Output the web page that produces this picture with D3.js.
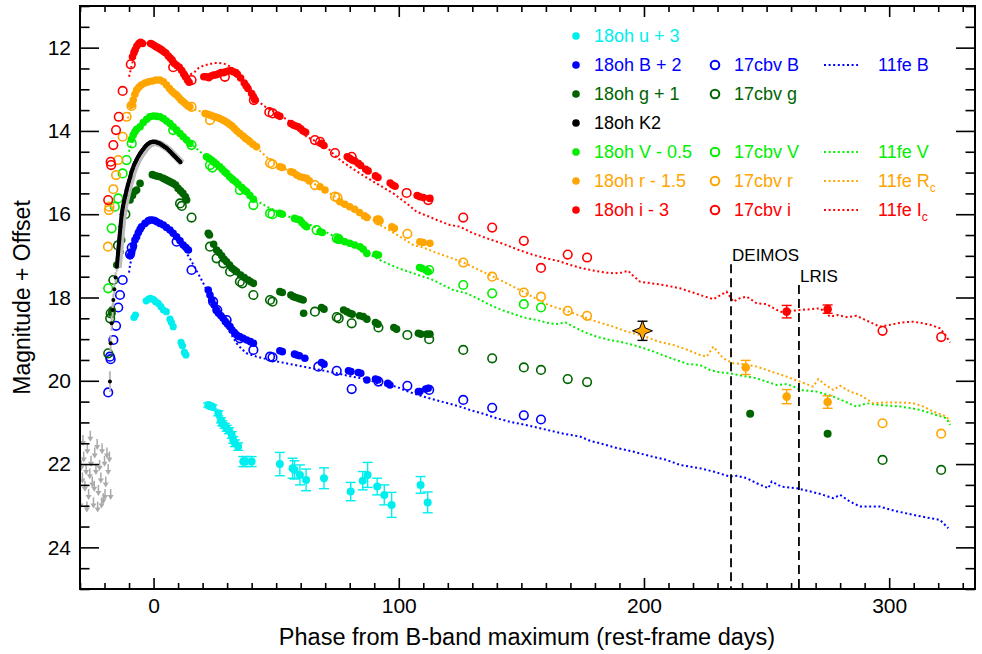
<!DOCTYPE html>
<html><head><meta charset="utf-8">
<script src="https://cdn.jsdelivr.net/npm/d3@7"></script>
<style>body{margin:0;background:#fff;} text{font-family:"Liberation Sans",Arial,Helvetica,sans-serif;}</style>
</head><body><svg id="c" width="982" height="654"></svg>
<script>
// ---------------- DATA ([phase, mag] or [phase, mag, err]) ----------------
const xDomain = [-30, 335];
const yDomain = [11, 25];
const xMajorTicks = [0, 100, 200, 300];
const yMajorTicks = [12, 14, 16, 18, 20, 22, 24];

const oh_u = [[-8.0,18.48],[-7.4,18.42],[-3.0,18.08],[-2.0,18.04],[-1.2,18.02],[0,18.05],[0.8,18.1],[1.9,18.14],[3,18.22],[4,18.3],[5.2,18.34],[6.7,18.52],[7.3,18.6],[8,18.7],[11.2,19.08],[11.8,19.16],[12.6,19.32],[13.2,19.38]];
const oh_u_err = [[22.3,20.58,0.05],[23,20.6,0.05],[24,20.63,0.05],[26.4,20.78,0.06],[27.5,20.95,0.06],[28,21.02,0.06],[29,21.08,0.06],[29.8,21.14,0.07],[30.8,21.2,0.07],[31.9,21.3,0.08],[32.5,21.42,0.08],[33.2,21.5,0.08],[34.5,21.58,0.09],[36.6,21.94,0.12],[37.5,21.94,0.12],[40,21.94,0.12],[51.5,22.0,0.28],[56.7,22.1,0.24],[57.5,22.14,0.22],[59.7,22.26,0.24],[62.2,22.38,0.26],[69.5,22.34,0.25],[80.4,22.66,0.22],[85.3,22.4,0.22],[87.3,22.26,0.3],[91.2,22.54,0.2],[94.1,22.74,0.24],[97.1,22.98,0.3],[108.9,22.5,0.2],[111.8,22.92,0.25]];

const oh_B = [[-9.6,17.0],[-8.9,16.9],[-8.2,16.75],[-7.6,16.62],[-6.9,16.54],[-6.2,16.44],[-5.5,16.36],[-4.9,16.3],[-3.5,16.22],[-2.2,16.16],[-1.5,16.14],[-0.5,16.14],[0.5,16.15],[1.3,16.18],[2.6,16.22],[4,16.26],[5.3,16.32],[6.7,16.38],[8,16.46],[9.4,16.54],[10.8,16.64],[12.1,16.74],[13.2,16.8],[14.2,16.86],
[22.3,17.82],[23,17.94],[23.7,18.06],[24.7,18.18],[25.7,18.3],[26.5,18.38],[27.5,18.44],[28.4,18.5],[29.3,18.58],[30.2,18.64],[31.2,18.7],[32,18.78],[33,18.84],[33.9,18.9],[35,18.94],[36.5,18.98],[38,19.02],[39.5,19.06],[40.7,19.1],[51.5,19.28],[52.5,19.3],[57.5,19.36],[58.4,19.38],[59.5,19.4],[61.7,19.46],[68.5,19.56],[69.5,19.6],[79.5,19.76],[80.5,19.78],[83.5,19.8],[84.5,19.82],[87,19.98],[90.5,19.96],[91.5,19.98],[95.5,20.06],[96.4,20.1],[108,20.26],[108.6,20.26],[111,20.2],[112,20.18]];

const oh_g = [[-17.1,18.38],[-16.9,18.3],[-15,17.22],[-13.7,16.9],[-13,16.62],[-9.6,15.66],[-8.6,15.55],[-7.6,15.45],[-6.9,15.42],[-5.5,15.26],[-0.5,15.05],[0.5,15.07],[1.5,15.09],[2.5,15.1],[4,15.14],[5,15.17],[6,15.2],[7,15.23],[8,15.26],[9,15.3],[10,15.38],[11,15.44],[12,15.5],[13,15.58],[13.5,15.66],
[22.3,16.46],[22.8,16.5],[24.5,16.72],[25.7,16.86],[26.7,16.92],[27.8,17.0],[28.8,17.08],[29.8,17.14],[31,17.22],[32,17.3],[33,17.34],[33.9,17.38],[35.5,17.46],[37,17.52],[38.6,17.58],[39.6,17.62],[40.7,17.66],[51.5,17.86],[52.5,17.88],[56,17.94],[57,17.98],[58,18.0],[59,18.02],[60,18.04],[61,18.06],[61.2,18.38],[68.5,18.24],[69.5,18.28],[77.5,18.3],[78.8,18.34],[80,18.38],[81,18.4],[84,18.44],[85.5,18.46],[87,18.52],[90.5,18.6],[91.5,18.64],[98,18.72],[99.1,18.76],[108,18.86],[109,18.88],[111.5,18.88],[112.7,18.88]];
const oh_g_late = [[243.3,20.79,0.04],[274.9,21.27,0.04]];

const oh_K2 = [[-17.8,20.02,0.25],[-17.5,19.1,0.2],[-17.1,18.62,0.18],[-16.7,18.3,0.16],[-16.4,18.06,0.15],[-16.0,17.8,0.14],[-15.5,17.52,0.13],[-15.0,17.26,0.12],[-14.5,16.95,0.11],[-14.0,16.62,0.1],[-13.5,16.3,0.1],[-13.0,16.0,0.09],[-12.5,15.82,0.09],[-12.0,15.68,0.08],[-11.5,15.55,0.08],[-11.0,15.42,0.08],[-10.5,15.3,0.07],[-10.0,15.2,0.07],[-9.5,15.1,0.07],[-9.0,14.98,0.06],[-8.5,14.9,0.06],[-8.0,14.82,0.06],[-7.5,14.76,0.06],[-7.0,14.7,0.06],[-6.5,14.64,0.05],[-6.0,14.59,0.05],[-5.5,14.54,0.05],[-5.0,14.5,0.05],[-4.5,14.46,0.05],[-4.0,14.42,0.05],[-3.5,14.38,0.05],[-3.0,14.35,0.05],[-2.5,14.32,0.05],[-2.0,14.3,0.05],[-1.5,14.28,0.05],[-1.0,14.27,0.05],[-0.5,14.26,0.05],[0,14.26,0.05],[0.5,14.26,0.05],[1.0,14.27,0.05],[1.5,14.28,0.05],[2.0,14.29,0.05],[2.5,14.3,0.05],[3.0,14.32,0.05],[3.5,14.34,0.05],[4.0,14.36,0.05],[4.5,14.38,0.05],[5.0,14.4,0.05],[5.5,14.42,0.05],[6.0,14.45,0.05],[6.5,14.48,0.05],[7.0,14.51,0.05],[7.5,14.54,0.05],[8.0,14.57,0.05],[8.5,14.6,0.05],[9.0,14.63,0.05],[9.5,14.66,0.05],[10.0,14.69,0.05],[10.5,14.72,0.05],[11.0,14.75,0.05]];

const oh_V = [[-9.0,14.2],[-8.3,14.1],[-7.6,14.02],[-6.9,13.96],[-5.5,13.9],[-4.2,13.8],[-2.8,13.72],[-1.5,13.66],[0,13.64],[1.3,13.65],[2.6,13.66],[4,13.7],[5.3,13.76],[6.7,13.82],[8,13.9],[9.4,13.98],[10.8,14.06],[12.1,14.14],[13.5,14.22],[14.8,14.3],
[21.6,14.62],[22.6,14.66],[23.6,14.7],[24.6,14.75],[25.7,14.8],[27,14.86],[28,14.92],[29,14.98],[29.8,15.02],[31,15.1],[32,15.15],[32.5,15.18],[33.5,15.22],[34.5,15.28],[36,15.36],[37,15.42],[38,15.46],[39.3,15.55],[40.7,15.64],[51.5,15.98],[52.5,16.0],[57.5,16.1],[58.5,16.12],[59.7,16.14],[60.5,16.2],[61.5,16.26],[62.4,16.3],[67.9,16.42],[68.8,16.44],[75,16.6],[76,16.62],[78,16.66],[80,16.7],[82,16.74],[84.2,16.78],[85.5,16.84],[87,16.94],[90.7,16.96],[91.7,16.98],[108.5,17.28],[109.4,17.3],[111,17.34],[112,17.38]];

const oh_r = [[-9.0,13.38],[-8.3,13.26],[-7.6,13.12],[-6.9,13.02],[-6.0,12.95],[-5.0,12.9],[-3.5,12.85],[-2.0,12.82],[-0.5,12.8],[1.0,12.78],[2.6,12.78],[4.0,12.82],[5.3,12.9],[6.5,12.98],[7.5,13.05],[8.5,13.1],[9.4,13.14],[10.3,13.2],[11.2,13.26],[12.1,13.3],[13.0,13.35],[14.0,13.4],[14.8,13.42],
[21,13.58],[22,13.6],[23,13.62],[24,13.64],[25,13.66],[26,13.68],[27,13.7],[28,13.73],[29,13.76],[30,13.8],[31,13.84],[32,13.88],[33,13.94],[34,14.0],[35.2,14.06],[36.5,14.12],[37.5,14.18],[38.5,14.22],[39.3,14.26],[40.5,14.32],[42,14.38],[51.5,14.86],[52.5,14.88],[56,14.98],[57,15.0],[58.4,15.06],[59.7,15.1],[61,15.12],[62.4,15.14],[63.5,15.2],[67.9,15.34],[69.9,15.42],[76,15.7],[78,15.76],[80,15.82],[82,15.88],[84,15.96],[86,16.04],[87,16.08],[91,16.12],[92.3,16.16],[97.2,16.3],[98.2,16.34],[108.6,16.66],[110,16.68],[112.7,16.7]];
const oh_r_late = [[241.5,19.68,0.17],[258.2,20.38,0.17],[274.9,20.51,0.15]];
const oh_r_star = [[199.4,18.8,0.23]];

const oh_i = [[-8.6,12.22],[-8.0,12.12],[-7.5,12.05],[-6.8,11.96],[-6.0,11.9],[-5.3,11.87],[-4.5,11.9],[-1.2,11.9],[-0.5,11.92],[0.3,11.95],[1.0,11.98],[1.8,12.0],[2.6,12.03],[3.4,12.06],[4.2,12.1],[5.0,12.13],[6.0,12.2],[6.8,12.25],[7.6,12.3],[8.5,12.38],[9.5,12.43],[10.5,12.47],[11.5,12.55],[12.3,12.63],[13.0,12.7],[13.8,12.78],[14.5,12.83],
[20.5,12.7],[21.5,12.7],[22.5,12.72],[23.5,12.68],[24.5,12.66],[25.5,12.65],[26.5,12.63],[27.5,12.6],[28.5,12.6],[29.5,12.58],[30.5,12.56],[31.5,12.55],[32.5,12.58],[33.5,12.6],[34.2,12.64],[35.5,12.73],[37.0,12.85],[37.8,12.92],[38.5,12.98],[40.0,13.1],[40.7,13.18],[41.3,13.25],
[50.5,13.62],[51.5,13.65],[56,13.82],[57,13.86],[58,13.88],[59,13.9],[60,13.95],[61,14.0],[62,14.03],[68.5,14.3],[69.5,14.35],[79,14.62],[80,14.66],[81,14.7],[82,14.72],[83.5,14.78],[84.5,14.83],[86.5,14.92],[87.5,14.96],[90.5,15.08],[91.5,15.12],[96.5,15.25],[97.5,15.3],[98.5,15.33],[107.5,15.55],[108.6,15.58],[110,15.6],[112.7,15.62]];
const oh_i_late = [[258.2,18.34,0.15],[274.9,18.28,0.1]];

const cbv_B = [[-18.5,20.28],[-17.8,19.42],[-17.5,19.48],[-16.4,19.02],[-15.3,18.68],[-14.4,18.24],[-13.7,17.94],[-12.6,17.58],[-9.6,16.96],[-8.9,16.8],[9.4,16.66],[15.5,17.34],[24.3,18.1],[26,18.3],[29.8,18.54],[35.2,18.98],[40.7,19.26],[47.5,19.42],[48.5,19.44],[67.2,19.66],[74.7,19.76],[80.8,20.2],[91.7,20.02],[103.5,20.12],[112.4,20.22],[126.3,20.46],[138.1,20.65],[151,20.83],[158,20.93]];
const cbv_g = [[-18.5,19.34],[-17.7,18.5],[-17.5,18.38],[-16.4,17.58],[-14.5,16.75],[-11.5,16.0],[10.8,15.74],[11.5,15.8],[15.5,16.08],[23,16.78],[25.7,17.06],[28.4,17.18],[31.2,17.38],[35.2,17.62],[36.2,17.66],[40.7,17.94],[47.5,18.06],[48.5,18.1],[65.8,18.34],[74.7,18.47],[75.5,18.5],[80.8,18.62],[91.7,18.72],[103.5,18.9],[112.4,19.0],[126.3,19.26],[138.1,19.46],[151,19.68],[158,19.74],[168.9,19.96],[176.8,20.03],[297.3,21.9],[321.2,22.14]];
const cbv_V = [[-18.5,17.78],[-17.1,16.34],[-15.8,15.82],[-14.4,15.62],[-12.6,15.02],[-11,14.7],[-8.9,14.3],[8,13.98],[15.5,14.34],[23,14.82],[24,14.88],[35.2,15.42],[40.7,15.78],[47.5,15.98],[48.5,16.0],[66.5,16.38],[74.7,16.58],[75.5,16.6],[112.4,17.34],[126.3,17.7],[138.1,17.9],[151,18.16],[158,18.24]];
const cbv_r = [[-18.6,16.78],[-18.2,15.9],[-18.0,15.82],[-16.4,15.4],[-15.3,15.06],[-14.4,14.7],[-12.6,14.14],[-11.0,13.66],[-9.0,13.4],[15.5,13.42],[23,13.74],[47.5,14.77],[48.5,14.8],[65.8,15.3],[74,15.58],[75,15.6],[91.7,16.15],[103.5,16.47],[126.3,17.16],[138.1,17.5],[151,17.88],[158,17.98],[168.9,18.32],[176.8,18.44],[297.3,21.02],[321.2,21.27]];
const cbv_i = [[-18.5,15.66],[-17.5,14.74],[-17.3,14.82],[-16.4,14.34],[-15.3,13.98],[-14.2,13.66],[-12.6,13.04],[-9.3,12.4],[8,12.47],[15.5,12.78],[29.1,12.7],[40.9,13.26],[47.2,13.55],[48.6,13.58],[65.8,14.22],[67.9,14.26],[74,14.53],[80.8,14.62],[103.2,15.49],[112,15.66],[126.3,16.08],[138.1,16.32],[151,16.64],[158,17.29],[168.9,16.97],[176.8,17.04],[297.3,18.8],[321.2,18.95]];

const fe_B = [[-10,17.4],[-9.6,17.22],[-8,16.8],[-6,16.46],[-4,16.28],[-2,16.18],[0,16.14],[2,16.18],[4,16.26],[6,16.38],[8,16.52],[10,16.66],[12,16.8],[14.8,17.06],[17,17.3],[18.9,17.5],[21,17.74],[23,17.98],[25,18.18],[27,18.38],[28.4,18.54],[30,18.72],[32,18.92],[33.9,19.1],[36,19.24],[38,19.34],[42,19.42],[47.5,19.5],[54,19.58],[61,19.66],[68,19.74],[74.7,19.82],[81,19.9],[88.3,19.98],[92.3,20.1],[96,20.12],[99.1,20.14],[102,20.22],[105.9,20.3],[110,20.38],[115,20.46],[120,20.54],[125,20.62],[130,20.72],[135,20.8],[139.9,20.9],[145,20.98],[150,21.04],[157.6,21.14],[162,21.2],[168,21.28],[173.9,21.34],[178,21.44],[182,21.5],[188,21.6],[195.6,21.7],[202,21.8],[209.2,21.9],[214.7,22.02],[222.8,22.1],[228.3,22.18],[235.1,22.3],[238,22.28],[241.9,22.34],[246,22.46],[250.7,22.58],[252.1,22.42],[256,22.54],[262.3,22.58],[268,22.66],[272,22.72],[277.2,22.82],[280,22.74],[284,22.9],[288.1,23.02],[296.2,23.02],[302,23.12],[309.8,23.22],[315,23.28],[320.7,23.34],[324.1,23.54]];
const fe_V = [[-10,14.5],[-9,14.3],[-7.5,14.06],[-6,13.9],[-4.5,13.78],[-3,13.7],[-1,13.65],[1,13.64],[3,13.67],[5,13.74],[7,13.84],[9,13.95],[11,14.06],[13,14.18],[15,14.3],[17,14.4],[19,14.5],[21,14.6],[23,14.7],[25,14.8],[27,14.9],[29,15.0],[31,15.1],[33,15.22],[35,15.34],[37,15.44],[39,15.54],[41,15.64],[44,15.74],[47,15.84],[50,15.92],[53,16.0],[56,16.08],[60,16.16],[64,16.26],[68,16.36],[72,16.48],[76,16.6],[80,16.72],[84,16.84],[88,16.96],[92.3,17.1],[96,17.2],[100,17.3],[105.9,17.42],[110,17.5],[114.1,17.58],[118,17.7],[122.2,17.82],[127.7,17.9],[132,18.02],[137.2,18.18],[142,18.3],[147,18.4],[151,18.48],[156.2,18.54],[160,18.6],[164,18.64],[168,18.6],[171.2,18.7],[176,18.84],[180.7,18.94],[186,19.02],[190,19.06],[195.6,19.14],[200,19.22],[204,19.3],[209.2,19.42],[214,19.52],[218,19.6],[222.8,19.62],[226.9,19.74],[231,19.8],[235.1,19.82],[240,19.88],[246,19.94],[250,20.02],[254.1,20.1],[258.2,20.08],[261,20.14],[263.6,20.22],[267,20.24],[270.4,20.26],[274,20.32],[277.2,20.38],[282,20.5],[286.7,20.62],[290.8,20.54],[296,20.58],[304.5,20.62],[309,20.66],[312.7,20.7],[318,20.8],[323.4,20.9],[324.8,21.06]];
const fe_R = [[-10.5,13.7],[-9.5,13.48],[-8,13.22],[-6.5,13.02],[-5,12.9],[-3,12.82],[-1,12.78],[1,12.78],[3,12.8],[5,12.88],[7,12.98],[9,13.1],[11,13.22],[13,13.33],[15,13.42],[17,13.48],[19,13.53],[21,13.58],[23,13.62],[25,13.66],[27,13.7],[29,13.76],[31,13.84],[33,13.94],[35,14.05],[37,14.16],[39,14.26],[41,14.36],[43,14.46],[46,14.62],[49,14.76],[52,14.86],[55,14.95],[58,15.04],[61,15.12],[64,15.22],[67,15.32],[70,15.42],[73,15.54],[76,15.66],[79,15.78],[82,15.88],[85,15.98],[88,16.06],[92.3,16.26],[96,16.38],[100,16.52],[105.9,16.74],[110,16.8],[115,16.92],[120,17.02],[126.3,17.16],[132,17.32],[138.5,17.5],[144,17.66],[150.8,17.86],[155,18.0],[160.3,18.16],[164,18.24],[168.5,18.32],[174,18.44],[180.7,18.58],[187.5,18.7],[193,18.82],[199.7,18.92],[206,19.06],[212,19.14],[217,19.24],[222.8,19.38],[225.6,19.42],[228.3,19.18],[230,19.3],[232.3,19.46],[236.4,19.58],[241,19.6],[246,19.66],[252,19.78],[258.2,19.9],[263.6,20.02],[269,20.14],[271.1,19.96],[274,20.1],[277.2,20.22],[280,20.12],[284,20.26],[288.1,20.34],[293.5,20.54],[298,20.52],[304.5,20.52],[309.8,20.54],[314,20.62],[318,20.74],[323.4,20.86],[324.8,20.98]];
const fe_I = [[-10,12.7],[-9,12.45],[-8,12.22],[-7,12.05],[-6,11.95],[-5,11.9],[-3,11.88],[-1,11.92],[1,11.98],[3,12.05],[5,12.14],[7,12.25],[9,12.38],[11,12.5],[13,12.62],[15,12.64],[16.5,12.6],[18.5,12.48],[20.5,12.43],[22.5,12.4],[24.5,12.37],[26.5,12.37],[28.5,12.38],[30.5,12.43],[32.5,12.5],[34.5,12.6],[36.5,12.74],[38.5,12.9],[40.5,13.08],[42.5,13.27],[45,13.4],[48,13.5],[51.5,13.62],[55,13.75],[58.5,13.9],[62.4,14.14],[66.5,14.26],[70.6,14.38],[73.3,14.55],[76.5,14.72],[80,14.86],[84.2,15.02],[88,15.16],[92,15.3],[97.8,15.5],[103.2,15.74],[107.3,15.94],[112,16.05],[116,16.15],[120.9,16.26],[125,16.3],[130,16.45],[137,16.6],[143,16.72],[149,16.86],[155,16.98],[160,17.06],[165,17.12],[170,17.22],[175,17.3],[180,17.36],[184,17.4],[188,17.42],[191,17.4],[193.6,17.36],[195,17.45],[198.4,17.62],[203,17.66],[208,17.7],[214.7,17.78],[220,17.88],[224,17.96],[228.3,18.04],[231,17.95],[233.7,17.86],[236.4,18.1],[239,18.02],[241.9,17.98],[246,18.14],[250,18.16],[253,18.26],[255.5,18.34],[258,18.36],[260,18.32],[263.6,18.3],[268,18.28],[271.8,18.26],[274,18.36],[275.9,18.46],[279,18.42],[282.7,18.47],[286.7,18.44],[291,18.56],[296.2,18.7],[300,18.66],[305,18.6],[309.8,18.58],[314,18.62],[317,18.66],[320.7,18.74],[323,18.9],[324.8,19.08]];

const upperLimits = [[-29.5,21.9],[-29,22.2],[-28.5,21.7],[-28,22.4],[-27.5,22.0],[-27,21.5],[-26.5,22.6],[-26,22.1],[-25.5,21.8],[-25,22.3],[-24.5,22.8],[-24,21.6],[-23.5,22.0],[-23,21.4],[-22.5,22.5],[-22,21.9],[-21.5,22.2],[-21,21.5],[-20.5,22.7],[-20,21.8],[-19.5,22.3],[-19,21.6],[-18.5,22.0],[-18,21.7],[-17.5,22.6],[-29.8,22.8],[-28.8,21.3],[-27.2,22.9],[-25.8,21.2],[-24.2,22.4],[-22.8,22.9],[-21.2,22.8],[-19.8,22.6]];

const spectraLabels = ["DEIMOS", "LRIS"];
const spectraPhases = [235.5, 263.2];
const spectraTopMags = [17.2, 17.7];

const bandNames = ["u","B","g","K2","V","r","i"];
const bandColors = ["#00EEEE","#0000FF","#006400","#000000","#00EE00","#FFA500","#FF0000"];
const legend18oh = ["18oh u + 3","18oh B + 2","18oh g + 1","18oh K2","18oh V - 0.5","18oh r - 1.5","18oh i - 3"];
const legend17cbv = [null,"17cbv B","17cbv g",null,"17cbv V","17cbv r","17cbv i"];
const legend11fe = [null,["11fe B",""],null,null,["11fe V",""],["11fe R","c"],["11fe I","c"]];

// ---------------- CHART ----------------
const svg = d3.select("#c");
const M = {l:80, r:975, t:6, b:589};
const x = d3.scaleLinear().domain(xDomain).range([M.l, M.r]);
const y = d3.scaleLinear().domain(yDomain).range([M.t, M.b]);
const col = Object.fromEntries(bandNames.map((b,i)=>[b,bandColors[i]]));

svg.append("defs").append("clipPath").attr("id","clip").append("rect")
  .attr("x",M.l).attr("y",M.t).attr("width",M.r-M.l).attr("height",M.b-M.t);
const plot = svg.append("g").attr("clip-path","url(#clip)");

// 11fe dotted lines
const line = d3.line().x(d=>x(d[0])).y(d=>y(d[1]));
[[fe_B,col.B],[fe_V,col.V],[fe_R,col.r],[fe_I,col.i]].forEach(([d,c])=>{
  plot.append("path").datum(d).attr("d",line).attr("fill","none")
    .attr("stroke",c).attr("stroke-width",2).attr("stroke-dasharray","2,2.6");
});

// upper limits (grey arrows)
const lim = plot.append("g").attr("fill","#aaaaaa").attr("stroke","#aaaaaa");
upperLimits.forEach(d=>{
  const px = x(d[0]), py = y(d[1]);
  lim.append("line").attr("x1",px).attr("x2",px).attr("y1",py).attr("y2",py+8).attr("stroke-width",1.5);
  lim.append("path").attr("d",`M${px-3},${py+6}L${px+3},${py+6}L${px},${py+11}Z`).attr("stroke","none");
});

// 17cbv open circles
[[cbv_B,col.B],[cbv_g,col.g],[cbv_V,col.V],[cbv_r,col.r],[cbv_i,col.i]].forEach(([d,c])=>{
  plot.append("g").selectAll("circle").data(d).join("circle")
    .attr("cx",p=>x(p[0])).attr("cy",p=>y(p[1])).attr("r",4.3)
    .attr("fill","none").attr("stroke",c).attr("stroke-width",1.6);
});

// 18oh filled
function filled(d,c,r){
  plot.append("g").selectAll("circle").data(d).join("circle")
    .attr("cx",p=>x(p[0])).attr("cy",p=>y(p[1])).attr("r",r).attr("fill",c);
}
function errbars(d,c,cap,w){
  const g = plot.append("g").attr("stroke",c).attr("stroke-width",w||1.4);
  d.forEach(p=>{
    const px=x(p[0]), y1=y(p[1]-p[2]), y2=y(p[1]+p[2]);
    g.append("line").attr("x1",px).attr("x2",px).attr("y1",y1).attr("y2",y2);
    g.append("line").attr("x1",px-cap).attr("x2",px+cap).attr("y1",y1).attr("y2",y1);
    g.append("line").attr("x1",px-cap).attr("x2",px+cap).attr("y1",y2).attr("y2",y2);
  });
}
filled(oh_B,col.B,3.8);
filled(oh_g,col.g,3.8);
filled(oh_V,col.V,3.8);
filled(oh_r,col.r,3.8);
filled(oh_i,col.i,3.8);
filled(oh_u,col.u,3.6);
errbars(oh_u_err,col.u,5);
filled(oh_u_err,col.u,4);

// K2
const k2 = plot.append("g");
oh_K2.forEach(p=>{
  k2.append("line").attr("x1",x(p[0])).attr("x2",x(p[0])).attr("y1",y(p[1]-p[2])).attr("y2",y(p[1]+p[2]))
    .attr("stroke","#bbbbbb").attr("stroke-width",2);
});
k2.append("path").datum(oh_K2.filter(p=>p[0]>-15.2)).attr("d",line).attr("fill","none")
  .attr("stroke","#bbbbbb").attr("stroke-width",7).attr("transform","translate(1.5,1)");
k2.append("path").datum(oh_K2.filter(p=>p[0]>-15.2)).attr("d",line).attr("fill","none")
  .attr("stroke","#000").attr("stroke-width",4);
k2.selectAll("circle").data(oh_K2).join("circle").attr("cx",p=>x(p[0])).attr("cy",p=>y(p[1])).attr("r",2).attr("fill","#000");

// late points with error bars
errbars(oh_i_late,col.i,5); filled(oh_i_late,col.i,4.3);
errbars(oh_r_late,col.r,5); filled(oh_r_late,col.r,4.3);
errbars(oh_g_late,col.g,3); filled(oh_g_late,col.g,4);
errbars(oh_r_star,"#000",5);
oh_r_star.forEach(p=>{
  const R=10,a=2.8;
  plot.append("path").attr("transform",`translate(${x(p[0])},${y(p[1])})`)
    .attr("d",`M0,${-R}L${a},${-a}L${R},0L${a},${a}L0,${R}L${-a},${a}L${-R},0L${-a},${-a}Z`)
    .attr("fill",col.r).attr("stroke","#000").attr("stroke-width",1);
});

// spectra epochs
spectraPhases.forEach((ph,i)=>{
  svg.append("line").attr("x1",x(ph)).attr("x2",x(ph)).attr("y1",y(spectraTopMags[i])).attr("y2",M.b)
    .attr("stroke","#000").attr("stroke-width",1.8).attr("stroke-dasharray","9,5");
  svg.append("text").attr("x",x(ph)+1).attr("y",y(spectraTopMags[i])-3).attr("font-size",17).text(spectraLabels[i]);
});

// axes
const xMinor = d3.range(-30, 336, 10).filter(v=>!xMajorTicks.includes(v));
const yMinor = d3.range(11, 25.01, 0.5).filter(v=>!yMajorTicks.includes(v));
function ax(gen, pos, vals, size, labels){
  const a = gen.tickValues(vals).tickSize(size).tickPadding(9);
  if(!labels) a.tickFormat("");
  const g = svg.append("g").attr("transform",pos).call(a);
  g.select(".domain").remove();
  g.selectAll("line").attr("stroke","#000").attr("stroke-width",1.6);
  g.selectAll("text").attr("font-size",21).attr("fill","#000").attr("font-family",'"Liberation Sans",Arial,sans-serif');
  return g;
}
ax(d3.axisBottom(x), `translate(0,${M.b})`, xMajorTicks, -11, true);
ax(d3.axisBottom(x), `translate(0,${M.b})`, xMinor, -6, false);
ax(d3.axisTop(x), `translate(0,${M.t})`, xMajorTicks, -11, false);
ax(d3.axisTop(x), `translate(0,${M.t})`, xMinor, -6, false);
ax(d3.axisLeft(y), `translate(${M.l},0)`, yMajorTicks, -19, true);
ax(d3.axisLeft(y), `translate(${M.l},0)`, yMinor, -9.5, false);
ax(d3.axisRight(y), `translate(${M.r},0)`, yMajorTicks, -19, false);
ax(d3.axisRight(y), `translate(${M.r},0)`, yMinor, -9.5, false);
svg.append("rect").attr("x",M.l).attr("y",M.t).attr("width",M.r-M.l).attr("height",M.b-M.t)
  .attr("fill","none").attr("stroke","#000").attr("stroke-width",2);

svg.append("text").attr("x",527).attr("y",645).attr("text-anchor","middle").attr("font-size",23.5)
  .text("Phase from B-band maximum (rest-frame days)");
svg.append("text").attr("transform",`translate(30,${(M.t+M.b)/2}) rotate(-90)`).attr("text-anchor","middle").attr("font-size",23)
  .text("Magnitude + Offset");

// legend
const lg = svg.append("g");
bandNames.forEach((b,i)=>{
  const ry = 36 + i*29, c = bandColors[i];
  lg.append("circle").attr("cx",576).attr("cy",ry).attr("r",3.8).attr("fill",c);
  lg.append("text").attr("x",594).attr("y",ry).attr("dy","0.35em").attr("font-size",18).attr("fill",c).text(legend18oh[i]);
  if(legend17cbv[i]){
    lg.append("circle").attr("cx",715).attr("cy",ry).attr("r",4.3).attr("fill","none").attr("stroke",c).attr("stroke-width",2);
    lg.append("text").attr("x",734).attr("y",ry).attr("dy","0.35em").attr("font-size",18).attr("fill",c).text(legend17cbv[i]);
  }
  if(legend11fe[i]){
    lg.append("line").attr("x1",824).attr("x2",858).attr("y1",ry).attr("y2",ry).attr("stroke",c)
      .attr("stroke-width",2).attr("stroke-dasharray","2,2.6");
    const t = lg.append("text").attr("x",878).attr("y",ry).attr("dy","0.35em").attr("font-size",18).attr("fill",c);
    t.append("tspan").text(legend11fe[i][0]);
    if(legend11fe[i][1]) t.append("tspan").attr("font-size",12).attr("dy","5").text(legend11fe[i][1]);
  }
});
</script></body></html>
